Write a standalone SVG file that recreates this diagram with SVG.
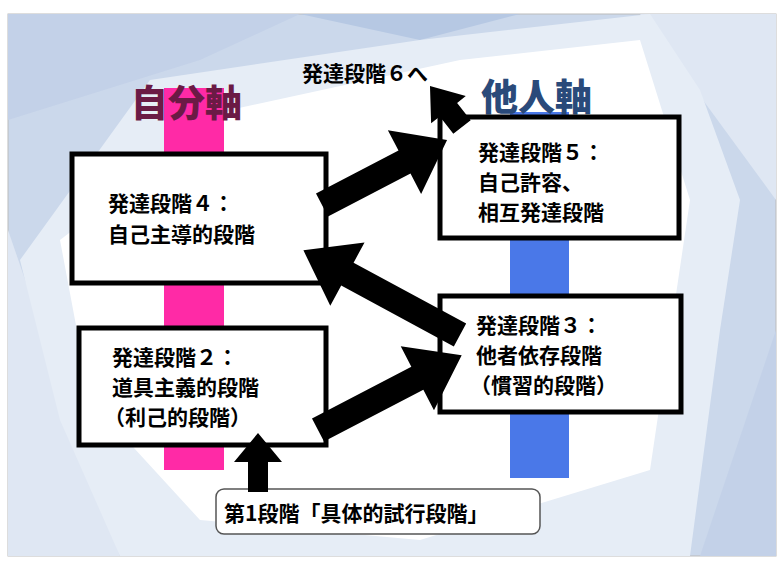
<svg xmlns="http://www.w3.org/2000/svg" width="783" height="562" viewBox="0 0 783 562">
<style>
.t{font-family:"Noto Sans CJK JP","Noto Sans CJK SC",sans-serif;font-weight:bold;font-size:21px;fill:#000}
.box{fill:#fff;stroke:#000;stroke-width:5}
.arr{fill:#000}
</style>
<rect width="783" height="562" fill="#fff"/>
<g id="background">
<rect x="8" y="14" width="768" height="542" fill="#cbd8eb" stroke="#bbb"/>
<polygon points="8,14 300,14 200,60 8,120" fill="#c3d1e8"/>
<polygon points="300,14 520,14 420,40" fill="#b6c8e3"/>
<polygon points="640,14 776,14 776,200" fill="#dfe7f3"/>
<polygon points="8,230 8,556 120,556" fill="#dfe7f3"/>
<polygon points="700,556 776,330 776,556" fill="#c3d1e8"/>
<polygon points="150,80 420,40 650,14 700,90 740,200 720,330 690,556 120,556 60,420 20,260" fill="#e6edf6"/>
<polygon points="230,110 460,60 640,40 690,200 650,470 420,540 200,520 90,400 60,240" fill="#fff"/>
</g>
<g id="axes">
<rect x="164" y="88" width="60" height="382" fill="#ff2aa6"/>
<rect x="510" y="112" width="59" height="366" fill="#4a78e8"/>
<text x="131" y="117" font-family="Noto Sans CJK JP,sans-serif" font-weight="900" font-size="37" fill="#6b1a45">自分軸</text>
<text x="481" y="111" font-family="Noto Sans CJK JP,sans-serif" font-weight="900" font-size="37" fill="#2a4a7a">他人軸</text>
<text x="302" y="81" class="t" font-size="20">発達段階６へ</text>
</g>
<g id="node4"><rect class="box" x="72" y="154" width="254" height="129"/>
<text class="t" x="108" y="211">発達段階４：</text><text class="t" x="108" y="242">自己主導的段階</text></g>
<g id="node5"><rect class="box" x="440" y="117" width="239" height="121"/>
<text class="t" x="478" y="160">発達段階５：</text><text class="t" x="478" y="190">自己許容、</text><text class="t" x="478" y="220">相互発達段階</text></g>
<g id="node2"><rect class="box" x="79" y="328" width="247" height="117"/>
<text class="t" x="112" y="365">発達段階２：</text><text class="t" x="112" y="395">道具主義的段階</text><text class="t" x="104" y="425">（利己的段階）</text></g>
<g id="node3"><rect class="box" x="440" y="296" width="241" height="116"/>
<text class="t" x="476" y="333">発達段階３：</text><text class="t" x="476" y="363">他者依存段階</text><text class="t" x="470" y="393">（慣習的段階）</text></g>
<g id="node1"><rect x="216" y="489" width="324" height="45" rx="8" fill="#fff" stroke="#555" stroke-width="1.5"/>
<text class="t" x="224" y="521" font-size="22">第1段階「具体的試行段階」</text></g>
<g id="connectors">
<polygon class="arr" transform="translate(322,205) rotate(-27.5)" points="0,-13 93,-13 93,-36 141,0 93,36 93,13 0,13"/>
<polygon class="arr" transform="translate(460,335) rotate(-151.6)" points="0,-13 128,-13 128,-36 178,0 128,36 128,13 0,13"/>
<polygon class="arr" transform="translate(318,430) rotate(-27.5)" points="0,-13 112,-13 112,-36 162,0 112,36 112,13 0,13"/>
<polygon class="arr" transform="translate(258,492) rotate(-90)" points="0,-10 30,-10 30,-24 59,0 30,24 30,10 0,10"/>
<polygon class="arr" transform="translate(462,127) rotate(-128)" points="0,-11 22,-11 22,-22 52,0 22,22 22,11 0,11"/>
</g>
</svg>
